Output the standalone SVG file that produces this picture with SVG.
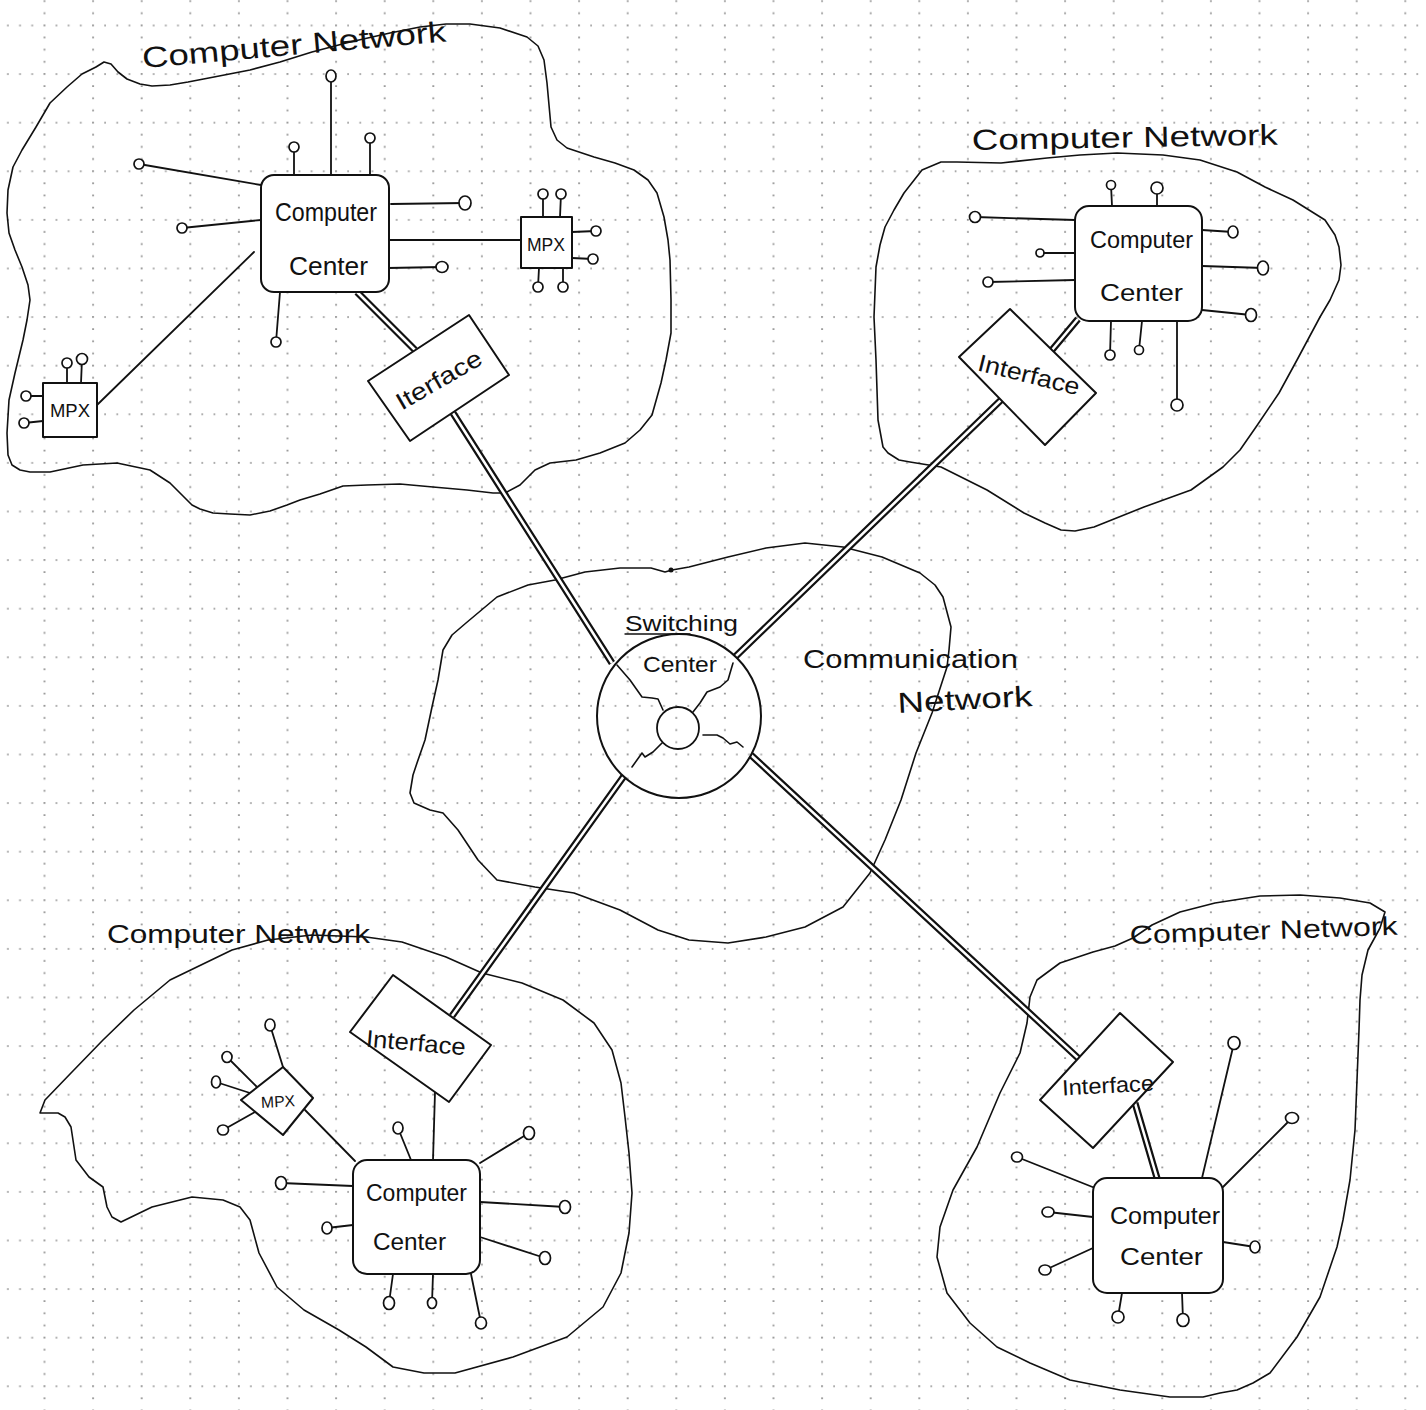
<svg xmlns="http://www.w3.org/2000/svg" width="1426" height="1410" viewBox="0 0 1426 1410">
<defs>
<pattern id="grid" patternUnits="userSpaceOnUse" x="43.5" y="24.5" width="48.6" height="48.6">
<path d="M0 1H48.6M1 0V48.6" stroke="#000" stroke-width="1.7" stroke-dasharray="1.7 10.45" fill="none" opacity="0.45"/>
</pattern>
<style>
.o{fill:none;stroke:#111;stroke-width:1.6;stroke-linejoin:round;stroke-linecap:round}
.ln{fill:none;stroke:#111;stroke-width:1.8;stroke-linecap:round}
.bx{fill:#fff;stroke:#111;stroke-width:2;stroke-linejoin:round}
.tm{fill:#fff;stroke:#111;stroke-width:1.7}
.dl{fill:none;stroke:#111;stroke-width:7}
.dw{fill:none;stroke:#fff;stroke-width:2.6}
text{font-family:"Liberation Sans",Arial,sans-serif;fill:#111}
.h{font-size:26px}
.ti{font-size:29px}
.s{font-size:22px}
.m{font-size:19px}
</style>
</defs>
<rect width="1426" height="1410" fill="#fff"/>
<rect width="1426" height="1410" fill="url(#grid)"/>

<!-- Network outlines and titles -->
<g id="network-top-left">
<polyline class="o" points="96,67 104,62 111,64 118,72 127,79 140,84 152,86 170,85 188,82 214,77 250,70 280,62 312,52 350,42 390,33 420,27 446,24 470,24 500,28 527,37 538,46 544,60 547,83 549,105 551,127 557,140 567,148 594,157 615,163 634,170 648,180 657,193 664,217 668,240 670,260 671,300 671,333 666,360 661,383 652,415 640,430 625,443 600,453 576,460 550,463 535,470 520,485 505,493 493,493 467,490 433,487 400,484 367,485 343,486 320,494 300,500 287,505 270,511 250,515 230,514 213,513 200,509 192,505 183,496 170,483 150,470 117,463 83,465 50,472 30,472 20,470 12,465 8,455 7,433 9,400 15,373 23,340 27,320 30,300 28,285 22,267 15,250 9,233 7,213 8,190 13,167 22,150 36,127 50,103 67,87 82,74 96,67"/>
<text class="ti" x="143" y="68" textLength="305" lengthAdjust="spacingAndGlyphs" transform="rotate(-5 143 68)">Computer Network</text>
</g>
<g id="network-top-right">
<polyline class="o" points="941,162 957,162 1001,163 1047,158 1080,155 1117,153 1163,155 1200,160 1237,172 1265,187 1293,200 1325,220 1335,235 1339,247 1341,265 1339,280 1330,300 1320,317 1297,360 1279,393 1256,427 1240,450 1223,467 1191,490 1144,507 1094,527 1075,531 1061,530 1045,523 1024,513 987,490 941,467 910,462 899,460 888,453 883,447 878,420 876,360 874,317 876,267 880,245 885,227 894,210 904,193 922,170 941,162"/>
<text class="ti" x="972" y="150" textLength="306" lengthAdjust="spacingAndGlyphs" transform="rotate(-1 972 150)">Computer  Network</text>
</g>
<g id="network-communication">
<polyline class="o" points="466,623 497,597 528,585 555,580 585,572 620,568 651,568 665,572 672,570 689,567 728,557 766,548 805,543 843,547 882,557 920,573 935,585 943,597 951,627 949,650 947,667 932,713 916,753 901,800 885,840 870,873 843,907 805,927 766,937 728,943 689,940 658,930 620,910 574,893 535,887 497,880 478,860 458,830 443,813 430,810 414,803 410,793 413,775 417,763 425,740 432,707 438,680 443,650 452,635 466,623"/>
<circle cx="671" cy="570" r="2.5" fill="#111"/>
<text class="h" x="803" y="668" textLength="215" lengthAdjust="spacingAndGlyphs">Communication</text>
<text class="ti" x="898" y="713" textLength="135" lengthAdjust="spacingAndGlyphs" transform="rotate(-3 898 713)">Network</text>
</g>
<g id="network-bottom-left">
<polyline class="o" points="312,935 366,937 402,942 446,957 482,973 522,983 563,1000 594,1023 612,1050 621,1083 625,1117 629,1153 632,1193 629,1233 621,1273 603,1307 567,1337 513,1357 455,1373 424,1373 393,1367 366,1347 339,1330 304,1310 277,1287 259,1253 250,1220 240,1207 223,1200 192,1197 152,1207 121,1222 112,1217 107,1207 103,1187 89,1177 76,1160 71,1127 65,1117 58,1113 40,1113 45,1100 71,1073 103,1040 134,1010 170,980 201,965 232,950 268,940 312,935"/>
<text class="h" x="107" y="943" textLength="263" lengthAdjust="spacingAndGlyphs">Computer Network</text>
</g>
<g id="network-bottom-right">
<polyline class="o" points="1093,952 1115,946 1133,938 1152,925 1180,912 1215,903 1260,896 1300,895 1340,898 1370,903 1385,912 1380,928 1368,950 1362,975 1360,1000 1359,1030 1357,1080 1355,1130 1350,1180 1343,1220 1337,1247 1320,1297 1297,1337 1270,1373 1253,1383 1237,1390 1220,1393 1203,1397 1170,1397 1120,1390 1070,1380 1030,1363 997,1347 970,1323 947,1293 937,1257 940,1227 953,1190 977,1147 1000,1093 1020,1053 1027,1023 1030,997 1037,980 1060,963 1093,952"/>
<text class="h" x="1130" y="944" textLength="268" lengthAdjust="spacingAndGlyphs" transform="rotate(-2 1130 944)">Computer  Network</text>
</g>

<!-- Connectors -->
<g id="connectors">
<g class="dl">
<path d="M357,292L415,350M453,413L612,663M1052,350L1078,319M1001,400L735,657M452,1016L624,776M751,755L1078,1058M1135,1103L1157,1178"/>
</g>
<g class="dw">
<path d="M357,292L415,350M453,413L612,663M1052,350L1078,319M1001,400L735,657M452,1016L624,776M751,755L1078,1058M1135,1103L1157,1178"/>
</g>
<path class="ln" d="M388,240L521,240M254,252L97,405M435,1092L433,1160M305,1110L355,1161"/>
</g>

<!-- Switching center -->
<g id="switching-center">
<circle cx="679" cy="716" r="82" style="fill:none;stroke:#111;stroke-width:2"/>
<circle cx="678" cy="728" r="21" class="o" style="stroke-width:1.8"/>
<polyline class="o" points="617,665 630,680 642,697 652,698 658,699 663,710"/>
<polyline class="o" points="733,663 728,680 720,687 707,692 700,703 693,712"/>
<polyline class="o" points="662,743 653,752 645,757 642,753 632,767"/>
<polyline class="o" points="703,735 717,735 723,738 730,744 737,742 743,747"/>
<text class="s" x="625" y="631" textLength="113" lengthAdjust="spacingAndGlyphs">Switching</text>
<path class="ln" d="M625,634L690,634" style="stroke-width:1.4"/>
<text class="s" x="643" y="672" textLength="74" lengthAdjust="spacingAndGlyphs">Center</text>
</g>

<!-- Top-left computer network nodes -->
<g id="computer-center-top-left">
<path class="ln" d="M331,175L331,76M294,175L294,147M370,175L370,138M261,185L139,164M261,220L182,228M391,204L465,203M388,268L442,267M280,292L276,342"/>
<ellipse class="tm" cx="331" cy="76" rx="5" ry="6"/>
<circle class="tm" cx="294" cy="147" r="5"/>
<circle class="tm" cx="370" cy="138" r="5"/>
<circle class="tm" cx="139" cy="164" r="5"/>
<circle class="tm" cx="182" cy="228" r="5"/>
<ellipse class="tm" cx="465" cy="203" rx="6" ry="7"/>
<ellipse class="tm" cx="442" cy="267" rx="6" ry="5.5"/>
<circle class="tm" cx="276" cy="342" r="5"/>
<rect class="bx" x="261" y="175" width="128" height="117" rx="13"/>
<text class="h" x="275" y="221" textLength="102" lengthAdjust="spacingAndGlyphs">Computer</text>
<text class="h" x="289" y="275" textLength="79" lengthAdjust="spacingAndGlyphs">Center</text>
</g>
<g id="mpx-top-left-a">
<path class="ln" d="M543,217L543,194M560,217L561,194M572,232L596,231M572,258L593,259M539,268L538,287M563,268L563,287"/>
<circle class="tm" cx="543" cy="194" r="5"/>
<circle class="tm" cx="561" cy="194" r="5"/>
<circle class="tm" cx="596" cy="231" r="5"/>
<circle class="tm" cx="593" cy="259" r="5"/>
<circle class="tm" cx="538" cy="287" r="5"/>
<circle class="tm" cx="563" cy="287" r="5"/>
<rect class="bx" x="521" y="217" width="51" height="51"/>
<text class="m" x="546" y="251" text-anchor="middle" textLength="38" lengthAdjust="spacingAndGlyphs">MPX</text>
</g>
<g id="mpx-top-left-b">
<path class="ln" d="M67,383L67,363M81,383L82,359M43,396L26,396M43,421L24,423"/>
<circle class="tm" cx="67" cy="363" r="5"/>
<circle class="tm" cx="82" cy="359" r="5.5"/>
<circle class="tm" cx="26" cy="396" r="5"/>
<circle class="tm" cx="24" cy="423" r="5"/>
<rect class="bx" x="43" y="383" width="54" height="54"/>
<text class="m" x="70" y="417" text-anchor="middle" textLength="40" lengthAdjust="spacingAndGlyphs" style="font-size:18px">MPX</text>
</g>
<g id="interface-top-left">
<polygon class="bx" points="368,381 469,315 509,375 410,441"/>
<text class="h" x="439" y="388" text-anchor="middle" textLength="95" lengthAdjust="spacingAndGlyphs" transform="rotate(-30 439 380)" style="font-size:24px">Iterface</text>
</g>

<!-- Top-right computer network nodes -->
<g id="computer-center-top-right">
<path class="ln" d="M1112,206L1111,185M1157,206L1157,188M1075,220L975,217M1075,253L1040,253M1075,280L988,282M1202,230L1233,232M1202,266L1263,268M1202,310L1251,315M1111,321L1110,355M1142,321L1139,350M1177,321L1177,405"/>
<circle class="tm" cx="1111" cy="185" r="4.5"/>
<circle class="tm" cx="1157" cy="188" r="6"/>
<circle class="tm" cx="975" cy="217" r="5.5"/>
<circle class="tm" cx="1040" cy="253" r="4"/>
<circle class="tm" cx="988" cy="282" r="5"/>
<ellipse class="tm" cx="1233" cy="232" rx="5" ry="6"/>
<ellipse class="tm" cx="1263" cy="268" rx="5.5" ry="7"/>
<ellipse class="tm" cx="1251" cy="315" rx="5.5" ry="6.5"/>
<circle class="tm" cx="1110" cy="355" r="5"/>
<circle class="tm" cx="1139" cy="350" r="4.5"/>
<circle class="tm" cx="1177" cy="405" r="6"/>
<rect class="bx" x="1075" y="206" width="127" height="115" rx="14"/>
<text class="h" x="1090" y="248" textLength="103" lengthAdjust="spacingAndGlyphs" style="font-size:24px">Computer</text>
<text class="h" x="1100" y="301" textLength="83" lengthAdjust="spacingAndGlyphs" style="font-size:24px">Center</text>
</g>
<g id="interface-top-right">
<polygon class="bx" points="959,357 1010,309 1096,393 1045,445"/>
<text class="h" x="1029" y="383" text-anchor="middle" textLength="104" lengthAdjust="spacingAndGlyphs" transform="rotate(14 1029 375)" style="font-size:24px">Interface</text>
</g>

<!-- Bottom-left computer network nodes -->
<g id="computer-center-bottom-left">
<path class="ln" d="M411,1160L398,1128M480,1163L529,1133M353,1186L281,1183M353,1225L327,1228M480,1202L565,1207M480,1237L545,1258M393,1274L389,1303M433,1274L432,1303M471,1274L481,1323"/>
<ellipse class="tm" cx="398" cy="1128" rx="5" ry="6"/>
<ellipse class="tm" cx="529" cy="1133" rx="5.5" ry="6.5"/>
<ellipse class="tm" cx="281" cy="1183" rx="5.5" ry="6.5"/>
<ellipse class="tm" cx="327" cy="1228" rx="5" ry="6"/>
<ellipse class="tm" cx="565" cy="1207" rx="5.5" ry="6.5"/>
<ellipse class="tm" cx="545" cy="1258" rx="5.5" ry="6.5"/>
<ellipse class="tm" cx="389" cy="1303" rx="5.5" ry="6.5"/>
<ellipse class="tm" cx="432" cy="1303" rx="4.5" ry="5.5"/>
<ellipse class="tm" cx="481" cy="1323" rx="5.5" ry="6"/>
<rect class="bx" x="353" y="1160" width="127" height="114" rx="14"/>
<text class="h" x="366" y="1201" textLength="101" lengthAdjust="spacingAndGlyphs" style="font-size:24px">Computer</text>
<text class="h" x="373" y="1250" textLength="73" lengthAdjust="spacingAndGlyphs" style="font-size:24px">Center</text>
</g>
<g id="mpx-bottom-left">
<path class="ln" d="M283,1067L270,1025M257,1087L227,1057M250,1093L216,1082M255,1112L223,1130"/>
<ellipse class="tm" cx="270" cy="1025" rx="5" ry="6"/>
<ellipse class="tm" cx="227" cy="1057" rx="5" ry="5.5"/>
<ellipse class="tm" cx="216" cy="1082" rx="4.5" ry="6"/>
<ellipse class="tm" cx="223" cy="1130" rx="5.5" ry="5"/>
<polygon class="bx" points="241,1100 283,1067 313,1098 283,1135"/>
<text class="m" x="278" y="1107" text-anchor="middle" textLength="34" lengthAdjust="spacingAndGlyphs" style="font-size:16px" transform="rotate(-3 278 1101)">MPX</text>
</g>
<g id="interface-bottom-left">
<polygon class="bx" points="393,975 491,1045 449,1102 350,1032"/>
<text class="h" x="416" y="1051" text-anchor="middle" textLength="100" lengthAdjust="spacingAndGlyphs" transform="rotate(5 416 1043)" style="font-size:24px">Interface</text>
</g>

<!-- Bottom-right computer network nodes -->
<g id="computer-center-bottom-right">
<path class="ln" d="M1202,1178L1234,1043M1223,1187L1292,1118M1095,1188L1017,1157M1093,1217L1048,1212M1093,1248L1045,1270M1223,1242L1255,1247M1122,1293L1118,1317M1182,1293L1183,1320"/>
<ellipse class="tm" cx="1234" cy="1043" rx="6" ry="6.5"/>
<ellipse class="tm" cx="1292" cy="1118" rx="6.5" ry="5.5"/>
<ellipse class="tm" cx="1017" cy="1157" rx="5.5" ry="5"/>
<ellipse class="tm" cx="1048" cy="1212" rx="6" ry="5"/>
<ellipse class="tm" cx="1045" cy="1270" rx="6" ry="5"/>
<ellipse class="tm" cx="1255" cy="1247" rx="5" ry="6"/>
<ellipse class="tm" cx="1118" cy="1317" rx="6" ry="6"/>
<ellipse class="tm" cx="1183" cy="1320" rx="6" ry="6.5"/>
<rect class="bx" x="1093" y="1178" width="130" height="115" rx="14"/>
<text class="h" x="1110" y="1224" textLength="110" lengthAdjust="spacingAndGlyphs" style="font-size:24px">Computer</text>
<text class="h" x="1120" y="1265" textLength="83" lengthAdjust="spacingAndGlyphs" style="font-size:24px">Center</text>
</g>
<g id="interface-bottom-right">
<polygon class="bx" points="1120,1013 1173,1062 1093,1148 1040,1100"/>
<text class="h" x="1108" y="1093" text-anchor="middle" textLength="92" lengthAdjust="spacingAndGlyphs" transform="rotate(-3 1108 1086)" style="font-size:22px">Interface</text>
</g>
</svg>
